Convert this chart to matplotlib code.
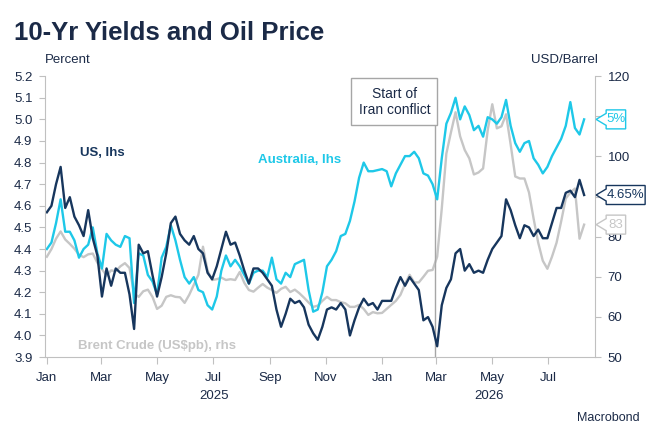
from __future__ import annotations

import matplotlib

matplotlib.use("Agg")
import matplotlib.dates as mdates
import matplotlib.pyplot as plt
import matplotlib.transforms as mtransforms
from matplotlib.patches import Polygon, Rectangle
import pandas as pd

# five-day samples, starting 1 Jan 2025
START_DATE = "2025-01-01"
STEP = "5D"

us_10y = [
    4.57, 4.60, 4.70, 4.78, 4.59, 4.64, 4.55, 4.51, 4.46, 4.58,
    4.45, 4.37, 4.18, 4.31, 4.23, 4.31, 4.29, 4.29, 4.19, 4.03,
    4.42, 4.38, 4.39, 4.28, 4.18, 4.27, 4.38, 4.52, 4.55, 4.47,
    4.44, 4.42, 4.46, 4.40, 4.38, 4.29, 4.26, 4.32, 4.40, 4.48,
    4.42, 4.43, 4.37, 4.30, 4.24, 4.31, 4.31, 4.29, 4.26, 4.23,
    4.12, 4.04, 4.10, 4.17, 4.15, 4.16, 4.13, 4.05, 4.01, 3.98,
    4.04, 4.12, 4.13, 4.12, 4.15, 4.12, 4.00, 4.07, 4.13, 4.17,
    4.14, 4.15, 4.12, 4.16, 4.16, 4.16, 4.22, 4.27, 4.23, 4.27,
    4.24, 4.21, 4.07, 4.085, 4.04, 3.95, 4.14, 4.22, 4.26, 4.38,
    4.40, 4.30, 4.33, 4.29, 4.30, 4.29, 4.35, 4.40, 4.43, 4.46,
    4.63, 4.58, 4.51, 4.45, 4.51, 4.50, 4.46, 4.49, 4.45, 4.45,
    4.52, 4.59, 4.59, 4.66, 4.67, 4.64, 4.72, 4.65,
]

australia_10y = [
    4.40, 4.43, 4.52, 4.63, 4.48, 4.48, 4.44, 4.36, 4.40, 4.42,
    4.50, 4.38, 4.31, 4.47, 4.44, 4.42, 4.41, 4.46, 4.45, 4.15,
    4.38, 4.37, 4.28, 4.25, 4.19, 4.36, 4.41, 4.51, 4.44, 4.35,
    4.27, 4.24, 4.27, 4.21, 4.20, 4.14, 4.12, 4.18, 4.30, 4.37,
    4.32, 4.35, 4.32, 4.28, 4.24, 4.29, 4.30, 4.30, 4.27, 4.36,
    4.26, 4.24, 4.29, 4.27, 4.33, 4.34, 4.35, 4.21, 4.11, 4.12,
    4.20, 4.32, 4.35, 4.39, 4.46, 4.47, 4.53, 4.62, 4.73, 4.80,
    4.76, 4.76, 4.765, 4.77, 4.76, 4.69, 4.75, 4.79, 4.83, 4.83,
    4.85, 4.82, 4.75, 4.74, 4.70, 4.63, 4.82, 4.98, 5.03, 5.10,
    5.00, 5.06, 5.02, 4.95, 4.97, 4.92, 5.01, 5.00, 4.98, 5.01,
    5.09, 4.97, 4.89, 4.85, 4.89, 4.90, 4.82, 4.79, 4.75, 4.78,
    4.83, 4.87, 4.91, 4.97, 5.08, 4.96, 4.93, 5.00,
]

brent_usd = [
    75.0, 76.9, 79.5, 81.3, 79.3, 78.2, 77.0, 75.5, 74.9, 75.6,
    75.8, 73.5, 71.9, 70.3, 71.6, 71.4, 72.6, 73.4, 72.2, 65.8,
    65.0, 66.4, 66.8, 65.0, 62.0, 62.8, 65.0, 65.4, 65.0, 64.9,
    63.5, 65.5, 68.0, 70.5, 77.5, 71.5, 69.2, 69.4, 69.8, 69.2,
    69.4, 69.2, 71.2, 68.5, 66.7, 66.3, 67.3, 68.2, 67.3, 66.7,
    66.0, 67.0, 67.5, 66.2, 66.8, 65.9, 64.8, 63.6, 62.5, 62.8,
    64.0, 65.0, 64.2, 64.2, 63.7, 63.4, 62.5, 62.5, 63.0, 62.0,
    60.5, 61.2, 60.9, 61.0, 62.0, 63.0, 64.0, 65.5, 68.2, 70.5,
    68.6, 68.6, 70.0, 71.5, 71.7, 75.0, 87.0, 100.7, 106.0, 111.0,
    105.0, 101.6, 99.5, 95.5, 96.0, 97.0, 106.5, 113.0, 107.0, 107.5,
    110.5, 103.0, 95.0, 94.5, 94.5, 91.0, 84.5, 78.5, 74.0, 72.0,
    75.0, 78.5, 83.8, 89.5, 91.0, 92.0, 79.5, 83.0,
]

left_ticks = [3.9, 4.0, 4.1, 4.2, 4.3, 4.4, 4.5, 4.6, 4.7, 4.8, 4.9, 5.0, 5.1, 5.2]
right_ticks = [50, 60, 70, 80, 90, 100, 110, 120]

conflict_date = "2026-02-28"
conflict_label = "Start of\nIran conflict"

NAVY = "#17365d"
CYAN = "#1ec8e8"
GREY = "#c6c6c6"
TEXT = "#1b2a47"
SPINE = "#c0c0c0"
MARKER_LINE = "#a6a6a6"

plt.rcParams["font.family"] = ["Liberation Sans", "DejaVu Sans"]


def _end_tag(fig, axis, value, text, color):
    # little callout box hanging off the right-hand axis
    anchor = mtransforms.ScaledTranslation(1.0, value, axis.get_yaxis_transform())
    trans = fig.dpi_scale_trans + anchor
    width = 0.065 * len(text) + 0.065
    body = 0.11
    verts = [
        (0.01, 0.0), (body, 0.06), (body, 0.095), (body + width, 0.095),
        (body + width, -0.095), (body, -0.095), (body, -0.06),
    ]
    fig.add_artist(
        Polygon(verts, closed=True, transform=trans, facecolor="white",
                edgecolor=color, linewidth=1.0, clip_on=False, zorder=3)
    )
    fig.text(body + width / 2, 0.0, text, transform=trans, ha="center",
             va="center", fontsize=9.5, color=color, zorder=4)


def _to_right_axis(value: float) -> float:
    lo, hi = left_ticks[0], left_ticks[-1]
    r_lo, r_hi = right_ticks[0], right_ticks[-1]
    return r_lo + (value - lo) / (hi - lo) * (r_hi - r_lo)


def plot_chart(output_path: str) -> None:
    fig = plt.figure(figsize=(6.62, 4.48), dpi=100)
    ax = fig.add_axes([0.068, 0.203, 0.831, 0.627])
    ax2 = ax.twinx()
    ax.set_zorder(ax2.get_zorder() + 1)
    ax.patch.set_visible(False)

    dates = pd.date_range(START_DATE, periods=len(us_10y), freq=STEP)
    ax2.plot(dates, brent_usd, color=GREY, linewidth=1.7)
    ax.plot(dates, australia_10y, color=CYAN, linewidth=1.7)
    ax.plot(dates, us_10y, color=NAVY, linewidth=1.7)

    ax.set_xlim(pd.Timestamp("2024-12-30"), pd.Timestamp("2026-08-21"))
    ax.set_ylim(left_ticks[0], left_ticks[-1])
    ax.set_yticks(left_ticks)
    ax.set_yticklabels([f"{t:.1f}" for t in left_ticks])
    ax2.set_ylim(right_ticks[0], right_ticks[-1])
    ax2.set_yticks(right_ticks)
    # right-hand labels that sit under the end tags are hidden, as in the source
    covered = [_to_right_axis(us_10y[-1]), _to_right_axis(australia_10y[-1])]
    ax2.set_yticklabels(
        ["" if any(abs(t - c) < 2.5 for c in covered) else str(t) for t in right_ticks]
    )

    ax.xaxis.set_major_locator(mdates.MonthLocator(bymonth=[1, 3, 5, 7, 9, 11]))
    ax.xaxis.set_major_formatter(mdates.DateFormatter("%b"))

    for side in ("top", "right"):
        ax.spines[side].set_visible(False)
    for side in ("top", "left", "bottom"):
        ax2.spines[side].set_visible(False)
    for spine in ("left", "bottom"):
        ax.spines[spine].set_color(SPINE)
    ax2.spines["right"].set_color(SPINE)

    ax.tick_params(axis="y", length=4, color=SPINE, labelcolor=TEXT,
                   labelsize=9.5, pad=5)
    ax.tick_params(axis="x", length=5, color=SPINE, labelcolor=TEXT,
                   labelsize=9.5, pad=6)
    ax2.tick_params(axis="y", length=4, color=SPINE, labelcolor=TEXT,
                    labelsize=9.5, pad=5)

    # year labels centred on the visible part of each year
    lo, hi = ax.get_xlim()
    for year in (2025, 2026):
        start = max(mdates.date2num(pd.Timestamp(f"{year}-01-01")), lo)
        end = min(mdates.date2num(pd.Timestamp(f"{year + 1}-01-01")), hi)
        ax.text((start + end) / 2, -0.139, str(year),
                transform=ax.get_xaxis_transform(), ha="center", va="center",
                fontsize=9.5, color=TEXT)

    ax.axvline(pd.Timestamp(conflict_date), ymin=0, ymax=0.99,
               color=MARKER_LINE, linewidth=1.0, zorder=1)
    ax.add_patch(Rectangle((0.556, 0.826), 0.157, 0.167, transform=ax.transAxes,
                           facecolor="white", edgecolor=MARKER_LINE,
                           linewidth=1.0, zorder=5, clip_on=False))
    ax.text(0.635, 0.909, conflict_label, transform=ax.transAxes, ha="center",
            va="center", fontsize=10, color=TEXT, linespacing=1.2, zorder=6)

    ax.text(0.064, 0.726, "US, lhs", transform=ax.transAxes, fontsize=9.5,
            fontweight="bold", color=NAVY, va="center")
    ax.text(0.387, 0.701, "Australia, lhs", transform=ax.transAxes,
            fontsize=9.5, fontweight="bold", color=CYAN, va="center")
    ax.text(0.06, 0.039, "Brent Crude (US$pb), rhs", transform=ax.transAxes,
            fontsize=9.5, fontweight="bold", color=GREY, va="center")

    _end_tag(fig, ax, australia_10y[-1], f"{australia_10y[-1]:g}%", CYAN)
    _end_tag(fig, ax, us_10y[-1], f"{us_10y[-1]:g}%", NAVY)
    _end_tag(fig, ax2, brent_usd[-1], f"{brent_usd[-1]:g}", GREY)

    fig.text(14 / 662, 1 - 33 / 448, "10-Yr Yields and Oil Price",
             fontsize=18.5, fontweight="bold", color=TEXT, va="center")
    fig.text(45 / 662, 1 - 60 / 448, "Percent", fontsize=9.5, color=TEXT,
             va="center")
    fig.text(598 / 662, 1 - 60 / 448, "USD/Barrel", fontsize=9.5, color=TEXT,
             va="center", ha="right")
    fig.text(640 / 662, 1 - 418 / 448, "Macrobond", fontsize=9, color=TEXT,
             va="center", ha="right")

    fig.savefig(output_path, dpi=100)
    plt.close(fig)


def main() -> None:
    plot_chart("out.png")


if __name__ == "__main__":
    main()
